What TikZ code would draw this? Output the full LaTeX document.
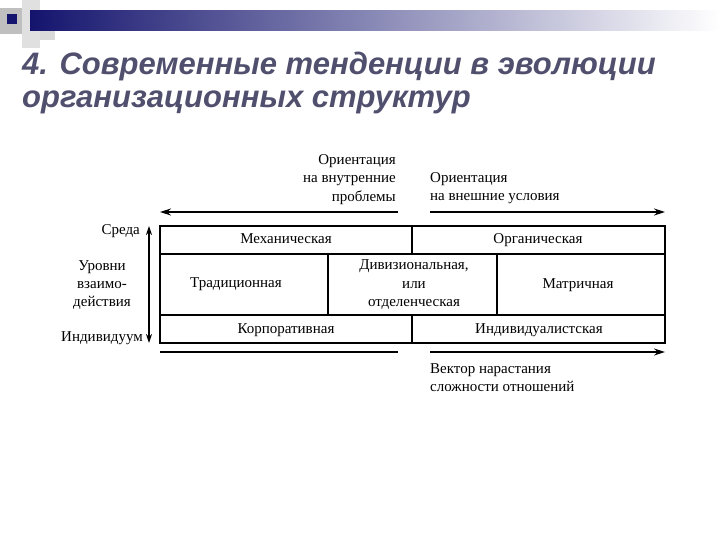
\documentclass[tikz,border=0pt]{standalone}
\usepackage{fontspec}
\setmainfont{Liberation Serif}
\newfontfamily\titlefont{Liberation Sans Bold Italic}
\usetikzlibrary{arrows.meta}
\definecolor{navy}{RGB}{20,20,110}
\definecolor{ttl}{RGB}{80,80,110}
\begin{document}
\begin{tikzpicture}[x=1pt,y=-1pt,
  lbl/.style={font=\fontsize{15}{17}\selectfont,inner sep=0pt,text height=10pt,text depth=3pt},
  cellline/.style={line width=1.4pt},
  arr/.style={line width=1.2pt,-{Stealth[length=11pt,width=7pt]}}]
\useasboundingbox (0,0) rectangle (720,540);
% header decoration
\fill[black!12] (22,0) rectangle (40,48);
\fill[black!25] (0,8) rectangle (22,34);
\shade[left color=navy,right color=white] (30,11) rectangle (720,31);
\fill[black!15] (40,31) rectangle (55,40);
\fill[navy] (7,14) rectangle (17,24);
\fill[white] (0,0) rectangle (22,8);
% title
\node[anchor=west,text=ttl,font=\titlefont\fontsize{31}{34}\selectfont,inner sep=0pt] (t1) at (22,66) {4. Современные тенденции в эволюции};
\node[anchor=west,text=ttl,font=\titlefont\fontsize{31}{34}\selectfont,inner sep=0pt] (t2) at (22,102) {организационных структур};
% table
\draw[cellline] (160,226) rectangle (665,343);
\draw[cellline] (160,254) -- (665,254);
\draw[cellline] (160,315) -- (665,315);
\draw[cellline] (412,226) -- (412,254);
\draw[cellline] (328,254) -- (328,315);
\draw[cellline] (497,254) -- (497,315);
\draw[cellline] (412,315) -- (412,343);
\node[lbl] (mech) at (286,240) {Механическая};
\node[lbl] (org) at (538,240) {Органическая};
\node[lbl] (trad) at (236,284) {Традиционная};
\node[lbl,align=center,font=\fontsize{15}{18.5}\selectfont,text height=,text depth=] (div) at (414,285) {Дивизиональная,\\или\\отделенческая};
\node[lbl] (matr) at (578,285) {Матричная};
\node[lbl] (korp) at (286,330) {Корпоративная};
\node[lbl] (ind) at (539,330) {Индивидуалистская};
% top arrows
\coordinate (la1) at (398,212); \coordinate (la2) at (160,212);
\coordinate (ra1) at (430,212); \coordinate (ra2) at (665,212);
\draw[arr] (la1) -- (la2);
\draw[arr] (ra1) -- (ra2);
\node[lbl,anchor=north east,align=right,font=\fontsize{15}{18.5}\selectfont,text height=,text depth=] (ot1) at (396,154) {Ориентация\\на внутренние\\проблемы};
\node[lbl,anchor=north west,align=left,font=\fontsize{15}{18.5}\selectfont,text height=,text depth=] (ot2) at (430,172) {Ориентация\\на внешние условия};
% bottom arrows
\coordinate (lb1) at (160,352); \coordinate (lb2) at (398,352);
\coordinate (rb1) at (430,352); \coordinate (rb2) at (665,352);
\draw[line width=1.2pt] (lb1) -- (lb2);
\draw[arr] (rb1) -- (rb2);
\node[lbl,anchor=north west,align=left,font=\fontsize{15}{18.5}\selectfont,text height=,text depth=] (vec) at (430,363) {Вектор нарастания\\сложности отношений};
% vertical arrow
\coordinate (v1) at (149,226); \coordinate (v2) at (149,343);
\draw[line width=1.2pt,{Stealth[length=9pt,width=6pt]}-{Stealth[length=9pt,width=6pt]}] (v1) -- (v2);
\node[lbl,anchor=east] (sreda) at (140,231) {Среда};
\node[lbl,align=center,font=\fontsize{15}{18}\selectfont,text height=,text depth=] (urov) at (102,285) {Уровни\\взаимо-\\действия};
\node[lbl,anchor=east] (indiv) at (143,338) {Индивидуум};
\end{tikzpicture}
\end{document}
